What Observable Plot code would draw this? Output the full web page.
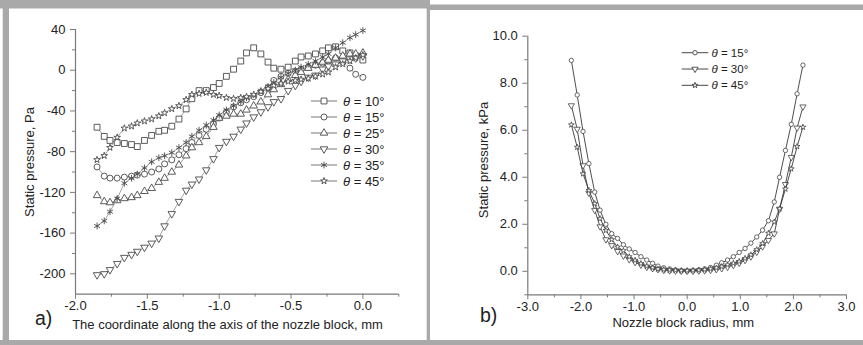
<!DOCTYPE html>
<html>
<head>
<meta charset="utf-8">
<script src="https://cdn.jsdelivr.net/npm/d3@7"></script>
<script src="https://cdn.jsdelivr.net/npm/@observablehq/plot@0.6"></script>
<style>
  html, body { margin: 0; padding: 0; background: #fff; }
  #wrap { position: relative; width: 863px; height: 345px; overflow: hidden; background: #fff; }
  #wrap > svg { position: absolute; top: 0; }
</style>
</head>
<body>
<div id="wrap"></div>
<script>
// ---------------- DATA: panel a) ----------------
const xA = [-1.85,-1.80,-1.76,-1.71,-1.66,-1.61,-1.57,-1.52,-1.47,-1.42,
            -1.38,-1.33,-1.28,-1.23,-1.19,-1.14,-1.09,-1.04,-1.00,-0.95,
            -0.90,-0.85,-0.81,-0.76,-0.71,-0.66,-0.62,-0.57,-0.52,-0.47,
            -0.43,-0.38,-0.33,-0.28,-0.24,-0.19,-0.14,-0.09,-0.05,0.00];
const a10 = [-56,-65,-69,-71,-72,-73,-75,-69,-64,-60,
             -59,-55,-48,-38,-28,-20,-20,-17,-13,-6,
             1,9,17,22,16,8,2,1,3,9,
             13,14,16,19,22,23,19,17,14,10];
const a15 = [-95,-104,-106,-106,-105,-104,-103,-102,-100,-97,
             -92,-88,-83,-77,-71,-64,-58,-53,-47,-41,
             -36,-32,-29,-26,-22,-17,-10,-6,-3,-1,
             1,3,5,7,9,12,8,2,-4,-7];
const a25 = [-123,-129,-130,-128,-126,-125,-123,-119,-116,-110,
             -106,-100,-93,-84,-76,-71,-65,-56,-47,-45,
             -43,-43,-39,-35,-31,-24,-19,-14,-9,-5,
             -2,2,5,8,10,12,14,16,16,17];
const a30 = [-201,-200,-196,-190,-184,-181,-178,-174,-170,-165,
             -153,-141,-129,-118,-112,-107,-98,-87,-76,-70,
             -65,-58,-52,-46,-41,-36,-31,-28,-20,-15,
             -11,-7,-5,1,4,6,9,11,12,14];
const a35 = [-153,-148,-139,-126,-111,-106,-102,-96,-90,-86,
             -84,-81,-76,-71,-65,-59,-54,-49,-44,-39,
             -35,-31,-27,-24,-20,-16,-12,-7,-3,0,
             3,6,9,13,16,22,27,32,35,39];
const a45 = [-88,-84,-76,-66,-57,-55,-52,-50,-48,-45,
             -42,-38,-35,-29,-24,-23,-22,-24,-25,-27,
             -28,-27,-26,-24,-21,-18,-15,-13,-11,-10,
             -9,-8,-6,-4,-2,3,6,9,12,15];
const labelsA = ["10°","15°","25°","30°","35°","45°"];
const yTicksA = [-200,-160,-120,-80,-40,0,40];
const yMinorA = [-180,-140,-100,-60,-20,20];
const xTicksA = [-2.0,-1.5,-1.0,-0.5,0.0];
const xMinorA = [-1.75,-1.25,-0.75,-0.25,0.25];
const xDomA = [-2.0, 0.25];
const yDomA = [-220, 40];

// ---------------- DATA: panel b) ----------------
const xB = [-2.18,-2.07,-1.96,-1.85,-1.74,-1.64,-1.53,-1.42,-1.31,-1.20,
            -1.09,-0.98,-0.87,-0.76,-0.65,-0.55,-0.44,-0.33,-0.22,-0.11,
            0.00,0.11,0.22,0.33,0.44,0.55,0.65,0.76,0.87,0.98,
            1.09,1.20,1.31,1.42,1.53,1.64,1.74,1.85,1.96,2.07,2.18];
const b15 = [8.97,7.50,5.95,4.58,3.37,2.60,2.00,1.60,1.40,1.13,
             0.95,0.80,0.62,0.48,0.34,0.22,0.15,0.10,0.06,0.03,
             0.02,0.03,0.06,0.10,0.16,0.26,0.36,0.48,0.62,0.80,
             0.97,1.20,1.46,1.75,2.15,2.95,4.00,5.14,6.25,7.55,8.77];
const b30 = [7.05,6.05,4.50,3.33,2.60,1.90,1.35,1.10,0.85,0.66,
             0.50,0.38,0.27,0.18,0.12,0.08,0.05,0.03,0.02,0.01,
             0.01,0.01,0.02,0.03,0.05,0.08,0.12,0.18,0.26,0.35,
             0.47,0.62,0.82,1.05,1.32,1.60,2.65,3.70,4.85,6.10,7.00];
const b45 = [6.23,5.28,4.15,3.44,2.88,2.24,1.74,1.35,1.03,0.88,
             0.62,0.47,0.33,0.22,0.15,0.10,0.07,0.05,0.04,0.03,
             0.03,0.04,0.05,0.07,0.10,0.14,0.20,0.27,0.34,0.42,
             0.55,0.70,0.92,1.18,1.62,2.10,2.66,3.50,4.36,5.31,6.13];
const labelsB = ["15°","30°","45°"];
const yTicksB = [0,2,4,6,8,10];
const yMinorB = [-1,1,3,5,7,9];
const xTicksB = [-3,-2,-1,0,1,2,3];
const xMinorB = [-2.5,-1.5,-0.5,0.5,1.5,2.5];
const xDomB = [-3, 3];
const yDomB = [-1, 10];

// ---------------- styles ----------------
const FONT = "'Liberation Sans', Arial, Helvetica, sans-serif";
const triangleDown = {
  draw(context, size) {
    const y = -Math.sqrt(size / (Math.sqrt(3) * 3));
    context.moveTo(0, -y * 2);
    context.lineTo(-Math.sqrt(3) * y, y);
    context.lineTo(Math.sqrt(3) * y, y);
    context.closePath();
  }
};
const symA = [d3.symbolSquare, d3.symbolCircle, d3.symbolTriangle, triangleDown, d3.symbolAsterisk, d3.symbolStar];
const rA   = [3.3, 3.0, 2.8, 2.8, 3.2, 2.1];
const symB = [d3.symbolCircle, triangleDown, d3.symbolStar];
const rB   = [2.2, 2.3, 1.8];

const valsA = [a10, a15, a25, a30, a35, a45];
const valsB = [b15, b30, b45];
const dataA = labelsA.map((k, j) => xA.map((x, i) => ({series: k, x, y: valsA[j][i]})));
const dataB = labelsB.map((k, j) => xB.map((x, i) => ({series: k, x, y: valsB[j][i]})));

const AX = "#7a7a7a";
const TXT = "#222";
const FS = 13;

function axes(yT, yM, xT, xM, xDom, yDom, yFmt, xFmt) {
  return [
    Plot.ruleX([xDom[0]], {stroke: AX, strokeWidth: 1.2}),
    Plot.ruleY([yDom[0]], {stroke: AX, strokeWidth: 1.2}),
    Plot.axisY({ticks: yT, tickSize: 5, tickPadding: 5, tickFormat: yFmt, label: null, stroke: AX, fill: TXT, fontSize: FS}),
    Plot.axisY({ticks: yM, tickSize: 3, tickFormat: () => "", label: null, stroke: AX}),
    Plot.axisX({ticks: xT, tickSize: 5, tickPadding: 2, tickFormat: xFmt, label: null, stroke: AX, fill: TXT, fontSize: FS}),
    Plot.axisX({ticks: xM, tickSize: 3, tickFormat: () => "", label: null, stroke: AX})
  ];
}

const plotA = Plot.plot({
  width: 425, height: 345,
  marginLeft: 75, marginRight: 26.7, marginTop: 29, marginBottom: 51.3,
  style: {fontFamily: FONT, fontSize: FS + "px", background: "transparent", overflow: "visible"},
  x: {domain: xDomA},
  y: {domain: yDomA},
  marks: [
    ...axes(yTicksA, yMinorA, xTicksA, xMinorA, xDomA, yDomA, d => String(d), d => d.toFixed(1)),
    ...dataA.flatMap((rows, j) => [
      Plot.line(rows, {x: "x", y: "y", stroke: "#8a8a8a", strokeWidth: 0.8}),
      Plot.dot(rows, {x: "x", y: "y", symbol: symA[j], r: rA[j], stroke: "#4a4a4a", strokeWidth: 0.9, fill: "white"})
    ])
  ]
});
plotA.style.left = "0px";

const plotB = Plot.plot({
  width: 433, height: 345,
  marginLeft: 97.3, marginRight: 17, marginTop: 35.7, marginBottom: 50.7,
  style: {fontFamily: FONT, fontSize: FS + "px", background: "transparent", overflow: "visible"},
  x: {domain: xDomB},
  y: {domain: yDomB},
  marks: [
    ...axes(yTicksB, yMinorB, xTicksB, xMinorB, xDomB, yDomB, d => d.toFixed(1), d => d.toFixed(1)),
    ...dataB.flatMap((rows, j) => [
      Plot.line(rows, {x: "x", y: "y", stroke: "#3a3a3a", strokeWidth: 0.9}),
      Plot.dot(rows, {x: "x", y: "y", symbol: symB[j], r: rB[j], stroke: "#444", strokeWidth: 0.8, fill: "white"})
    ])
  ]
});
plotB.style.left = "430px";

const wrap = document.getElementById("wrap");
for (const p of [plotA, plotB]) {
  d3.select(p).selectAll("text").attr("font-size", FS).style("font-size", FS + "px").style("font-family", FONT);
  wrap.appendChild(p);
}

// ---------------- overlay: frame, titles, legends ----------------
const ov = d3.select(wrap).append("svg")
  .attr("width", 863).attr("height", 345)
  .style("left", "0px").style("pointer-events", "none")
  .attr("font-family", FONT);

const FR = "#a9a9a9";
ov.append("rect").attr("x", 0).attr("y", 0).attr("width", 430).attr("height", 8.5).attr("fill", FR);
ov.append("rect").attr("x", 2.7).attr("y", 0).attr("width", 6.3).attr("height", 345).attr("fill", FR);
ov.append("rect").attr("x", 426.7).attr("y", 0).attr("width", 3.3).attr("height", 345).attr("fill", FR);
ov.append("rect").attr("x", 430).attr("y", 4.5).attr("width", 433).attr("height", 5.5).attr("fill", FR);
ov.append("rect").attr("x", 0).attr("y", 340).attr("width", 863).attr("height", 5).attr("fill", FR);

function text(x, y, s, size, opts = {}) {
  const t = ov.append("text").attr("x", x).attr("y", y).attr("font-size", size).attr("fill", TXT)
    .attr("text-anchor", opts.anchor || "start").text(s);
  if (opts.rotate) t.attr("x", 0).attr("y", 0).attr("transform", `translate(${x},${y}) rotate(-90)`);
  return t;
}
text(34, 162, "Static pressure, Pa", 13, {anchor: "middle", rotate: true});
text(227.5, 329, "The coordinate along the axis of the nozzle block, mm", 13, {anchor: "middle"});
text(35, 325, "a)", 19.5);
text(488, 160, "Static pressure, kPa", 13, {anchor: "middle", rotate: true});
text(683.3, 326.5, "Nozzle block radius, mm", 13, {anchor: "middle"});
text(480, 322, "b)", 19.5);

function legend(labels, syms, rs, x0, x1, tx, y0, dy, fs, lineCol, symCol) {
  labels.forEach((lab, j) => {
    const y = y0 + j * dy;
    ov.append("line").attr("x1", x0).attr("x2", x1).attr("y1", y).attr("y2", y)
      .attr("stroke", lineCol).attr("stroke-width", 0.9);
    ov.append("path").attr("transform", `translate(${(x0 + x1) / 2},${y})`)
      .attr("d", d3.symbol().type(syms[j]).size(Math.PI * rs[j] * rs[j])())
      .attr("fill", "white").attr("stroke", symCol).attr("stroke-width", 0.9);
    const t = ov.append("text").attr("x", tx).attr("y", y + fs * 0.36).attr("font-size", fs).attr("fill", TXT);
    t.append("tspan").attr("font-style", "italic").text("θ");
    t.append("tspan").text(" = " + lab);
  });
}
legend(labelsA, symA, rA, 311, 337, 343, 101, 16, 13, "#666", "#4a4a4a");
legend(labelsB, symB, rB, 681.7, 708.3, 711.5, 52.7, 16.3, 11.5, "#333", "#444");
</script>
</body>
</html>
